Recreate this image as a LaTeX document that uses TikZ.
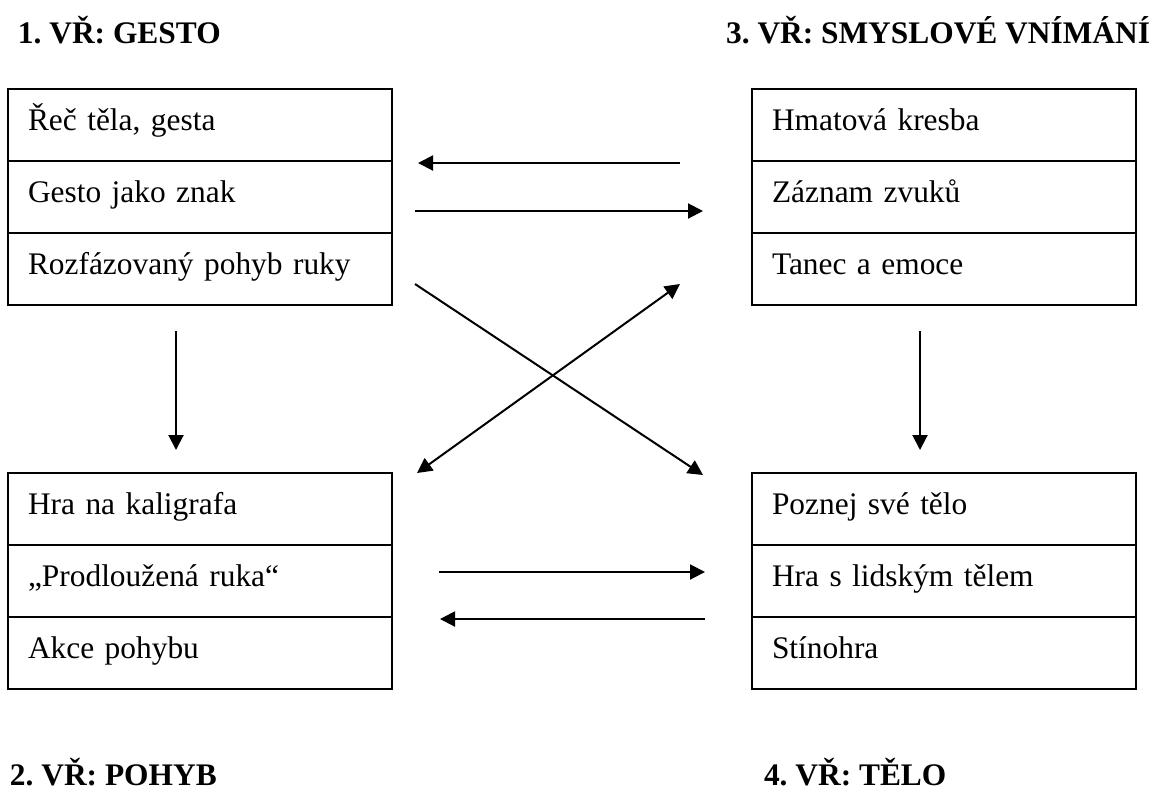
\documentclass[tikz,border=0pt]{standalone}
\usepackage{fontspec}
\setmainfont{Liberation Serif}
\usepackage{tikz}
\usetikzlibrary{arrows.meta,positioning}
\frenchspacing

\begin{document}
\begin{tikzpicture}[
        x = 0.5pt, y = -0.5pt,
        line width = 1pt,
        >={Triangle[length=7.5pt, width=7.5pt]},
        every node/.style = {
            font = \fontsize{15.7}{18}\selectfont,
        },
        row/.style = {
            draw, rectangle,
            outer sep = 0pt,
            inner xsep = 10pt,
            inner ysep = 0pt,
            text width = 172pt,
            minimum height = 36pt,
            text height = 9pt,
            text depth = 4pt,
            align = left,
        },
        title/.style = {
            anchor = base west,
            inner sep = 0pt,
            font = \fontsize{15.7}{18}\selectfont\bfseries,
        },
        ]

        \useasboundingbox (0,0) rectangle (1154,789);

        % Nadpisy
        \node[title] (t_gesto) at (17,43) {1. VŘ: GESTO};
        \node[title, anchor = base east] (t_vnimani) at (1151,43) {3. VŘ: SMYSLOVÉ VNÍMÁNÍ};
        \node[title] (t_pohyb) at (9,785) {2. VŘ: POHYB};
        \node[title] (t_telo) at (763,785) {4. VŘ: TĚLO};

        % Tabulky
        \node[row, anchor = north west] (gesto1) at (8,89) {Řeč těla, gesta};
        \node[row, below = 0pt of gesto1] (gesto2) {Gesto jako znak};
        \node[row, below = 0pt of gesto2] (gesto3) {Rozfázovaný pohyb ruky};

        \node[row, anchor = north west] (vnimani1) at (752,89) {Hmatová kresba};
        \node[row, below = 0pt of vnimani1] (vnimani2) {Záznam zvuků};
        \node[row, below = 0pt of vnimani2] (vnimani3) {Tanec a emoce};

        \node[row, anchor = north west] (pohyb1) at (8,473) {Hra na kaligrafa};
        \node[row, below = 0pt of pohyb1] (pohyb2) {„Prodloužená ruka“};
        \node[row, below = 0pt of pohyb2] (pohyb3) {Akce pohybu};

        \node[row, anchor = north west] (telo1) at (752,473) {Poznej své tělo};
        \node[row, below = 0pt of telo1] (telo2) {Hra s lidským tělem};
        \node[row, below = 0pt of telo2] (telo3) {Stínohra};

        % Konce sipek
        \coordinate (gv_a) at (680,163);
        \coordinate (gv_b) at (418,163);
        \coordinate (gv_c) at (415,211);
        \coordinate (gv_d) at (703,211);
        \coordinate (gt_a) at (415,284);
        \coordinate (gt_b) at (703,475);
        \coordinate (pv_a) at (417,473);
        \coordinate (pv_b) at (680,284);
        \coordinate (gp_a) at (176,331);
        \coordinate (gp_b) at (176,450);
        \coordinate (vt_a) at (920,331);
        \coordinate (vt_b) at (920,450);
        \coordinate (pt_a) at (439,572);
        \coordinate (pt_b) at (705,572);
        \coordinate (pt_c) at (705,619);
        \coordinate (pt_d) at (440,619);

        % Sipky
        \draw[->] (gv_a) -- (gv_b);
        \draw[->] (gv_c) -- (gv_d);
        \draw[->] (gt_a) -- (gt_b);
        \draw[<->] (pv_a) -- (pv_b);
        \draw[->] (gp_a) -- (gp_b);
        \draw[->] (vt_a) -- (vt_b);
        \draw[->] (pt_a) -- (pt_b);
        \draw[->] (pt_c) -- (pt_d);
    \end{tikzpicture}
\end{document}
